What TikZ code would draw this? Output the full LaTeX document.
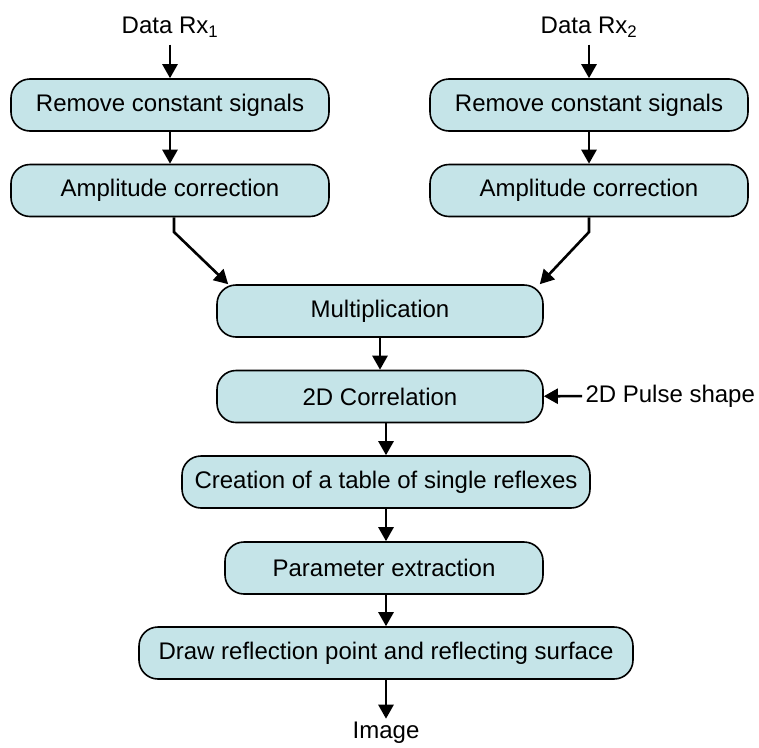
\documentclass[tikz,border=0pt]{standalone}
\usepackage{fontspec}
\setmainfont{Liberation Sans}
\usetikzlibrary{arrows.meta, positioning}
\definecolor{boxfill}{RGB}{197,228,232}

\begin{document}
\begin{tikzpicture}[x=1pt,y=-1pt,node distance=85.5pt,
    block/.style={draw, line width=1.6pt, rounded corners=19pt, fill=boxfill,
                  minimum height=52pt, font=\fontsize{24}{28}\selectfont},
    txt/.style={font=\fontsize{24}{28}\selectfont},
    flow/.style={-{Triangle[width=15pt,length=14pt]}, line width=2.6pt}]
  \useasboundingbox (0,0) rectangle (759,747);

  % two input branches
  \node[txt]                          (rx1)  at (170,27)     {Data Rx\textsubscript{1}};
  \node[block, minimum width=318pt]   (rem1) at (170,105)    {Remove constant signals};
  \node[block, minimum width=318pt]   (amp1) [below of=rem1] {Amplitude correction};

  \node[txt]                          (rx2)  at (589,27)     {Data Rx\textsubscript{2}};
  \node[block, minimum width=318pt]   (rem2) at (589,105)    {Remove constant signals};
  \node[block, minimum width=318pt]   (amp2) [below of=rem2] {Amplitude correction};

  % main chain
  \node[block, minimum width=326pt]   (mul)  at (380,311)    {Multiplication};
  \node[block, minimum width=326pt]   (corr) [below of=mul]  {2D Correlation};
  \node[block, minimum width=408pt]   (tab)  at (386,482)    {Creation of a table of single reflexes};
  \node[block, minimum width=318pt]   (par)  at (384,568)    {Parameter extraction};
  \node[block, minimum width=494pt]   (draw) at (386,653)    {Draw reflection point and reflecting surface};
  \node[txt]                          (img)  at (386,733)    {Image};
  \node[txt, anchor=west]             (pulse) at (582,396)   {2D Pulse shape};

  \coordinate (k1) at (174,232);
  \coordinate (k2) at (589,232);

  \draw[flow, shorten <=4pt] (rx1) -- (rem1);
  \draw[flow] (rem1) -- (amp1);
  \draw[flow, shorten <=4pt] (rx2) -- (rem2);
  \draw[flow] (rem2) -- (amp2);
  \draw[flow] (k1 |- amp1.south) -- (k1) -- ([xshift=12pt]mul.north west);
  \draw[flow] (k2 |- amp2.south) -- (k2) -- ([xshift=-4pt]mul.north east);
  \draw[flow] (mul) -- (corr);
  \draw[flow] (pulse) -- (corr);
  \draw[flow] (corr.south -| tab) -- (tab);
  \draw[flow] (tab) -- (par.north -| tab);
  \draw[flow] (par.south -| draw) -- (draw);
  \draw[flow] (draw) -- (img);
\end{tikzpicture}
\end{document}
